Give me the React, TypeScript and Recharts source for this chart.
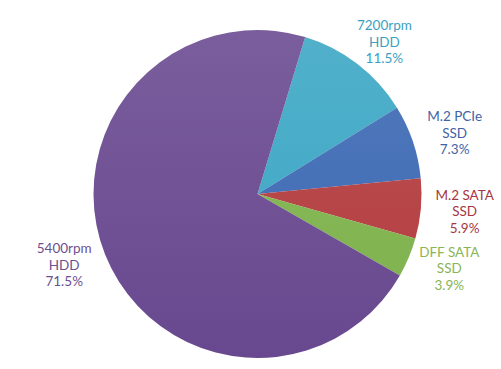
import React from 'react';
import { PieChart, Pie, Cell } from 'recharts';

const names = ['7200rpm HDD', 'M.2 PCIe SSD', 'M.2 SATA SSD', 'DFF SATA SSD', '5400rpm HDD'];
const shares = [11.5, 7.3, 5.9, 3.9, 71.5];
const fills = ['#3aa6c4', '#3b68b3', '#b33b3e', '#7db24b', '#68488f'];
const textColors = ['#3d9fc0', '#3f63a6', '#a63640', '#8ab455', '#6b5190'];

const data = names.map((name, i) => ({ name, value: shares[i] }));

// labels sit on an ellipse around the pie: text blocks are wider than tall
const renderLabel = (props: any) => {
  const { cx, cy, midAngle, outerRadius, index, name, value } = props;
  const RAD = Math.PI / 180;
  const x = cx + (outerRadius + 44) * Math.cos(-midAngle * RAD);
  const y = cy + (outerRadius + 28) * Math.sin(-midAngle * RAD);
  const words = String(name).split(' ');
  const first = words.slice(0, words.length - 1).join(' ');
  const last = words[words.length - 1];
  return (
    <text
      x={x}
      y={y - 16.5}
      textAnchor="middle"
      dominantBaseline="central"
      fill={textColors[index]}
      fontFamily="Lato, 'Open Sans', sans-serif"
      fontSize={13.5}
    >
      <tspan x={x} dy={0}>{first}</tspan>
      <tspan x={x} dy={16.5}>{last}</tspan>
      <tspan x={x} dy={16.5}>{value.toFixed(1)}%</tspan>
    </text>
  );
};

const App: React.FC = () => {
  return (
    <div style={{ position: 'absolute', left: 0, top: 0, width: 501, height: 369, background: '#fff' }}>
      <PieChart width={501} height={369}>
        <defs>
          {fills.map((c, i) => (
            <linearGradient key={i} id={`g${i}`} x1="0" y1="25" x2="0" y2="353" gradientUnits="userSpaceOnUse">
              <stop offset="0%" stopColor={c} stopOpacity={0.88} />
              <stop offset="100%" stopColor={c} stopOpacity={1} />
            </linearGradient>
          ))}
        </defs>
        <Pie
          data={data}
          dataKey="value"
          nameKey="name"
          cx={252.5}
          cy={189}
          outerRadius={164}
          startAngle={73.1}
          endAngle={73.1 - 360}
          stroke="none"
          label={renderLabel}
          labelLine={false}
          isAnimationActive={false}
        >
          {data.map((d, i) => (
            <Cell key={d.name} fill={`url(#g${i})`} />
          ))}
        </Pie>
      </PieChart>
    </div>
  );
};

export default App;
